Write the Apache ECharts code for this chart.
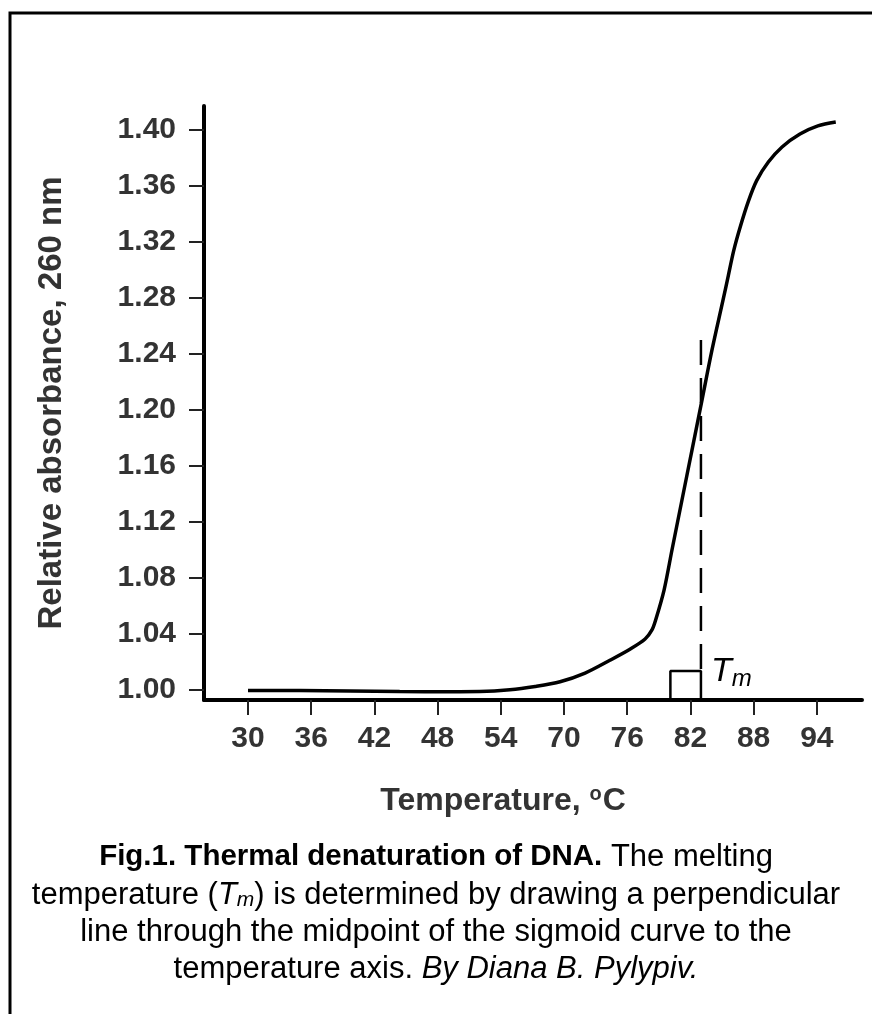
<!DOCTYPE html>
<html>
<head>
<meta charset="utf-8">
<script src="https://cdn.jsdelivr.net/npm/echarts@6/dist/echarts.min.js"></script>
<style>
html,body{margin:0;padding:0;background:#fff;}
#chart{width:872px;height:1014px;}
</style>
</head>
<body>
<div id="chart"></div>
<script>
// ---- data ----
const tickLabels = [30, 36, 42, 48, 54, 70, 76, 82, 88, 94];          // x tick labels (°C)
const yTicks = [1.00, 1.04, 1.08, 1.12, 1.16, 1.20, 1.24, 1.28, 1.32, 1.36, 1.40];
const curveTemps = [30.0, 34.9, 39.7, 44.4, 49.2, 52.0, 56.3, 62.7, 69.0, 72.0, 74.4, 76.3, 77.7, 78.35, 78.7, 79.5, 80.25, 81.2, 82.15, 83.1, 84.05, 85.1, 85.6, 86.1, 86.7, 87.5, 88.3, 89.4, 90.7, 92.4, 94.1, 95.8];
const curveAbs   = [0.9996, 0.9996, 0.9993, 0.9989, 0.9988, 0.9989, 1.0001, 1.0025, 1.0059, 1.0121, 1.0214, 1.0293, 1.0364, 1.0429, 1.0500, 1.0714, 1.1000, 1.1357, 1.1714, 1.2071, 1.2429, 1.2786, 1.2960, 1.3135, 1.3300, 1.3490, 1.3640, 1.3771, 1.3879, 1.3971, 1.4029, 1.4057];
const tmTemp = 83.0;          // melting temperature marker
const tmTopAbs = 1.25;        // top of dashed perpendicular
const boxLeftTemp = 80.1;     // right-angle mark
const boxTopAbs = 1.0136;

// temperature -> axis position (axis is piecewise, ticks evenly spaced)
function tempToPos(t) {
  for (let i = 0; i < tickLabels.length - 1; i++) {
    const a = tickLabels[i], b = tickLabels[i + 1];
    if (t <= b || i === tickLabels.length - 2) return i + (t - a) / (b - a);
  }
}

const yMin = 0.99286, yMax = 1.41714;
const xMin = -0.696, xMax = 9.715;

const curve = curveTemps.map((t, i) => [tempToPos(t), curveAbs[i]]);
const tmLine = [[tempToPos(tmTemp), tmTopAbs], [tempToPos(tmTemp), boxTopAbs]];
const box = [[tempToPos(boxLeftTemp), yMin], [tempToPos(boxLeftTemp), boxTopAbs], [tempToPos(tmTemp), boxTopAbs], [tempToPos(tmTemp), yMin]];

const FONT = '"Liberation Sans", Arial, Helvetica, sans-serif';
const chart = echarts.init(document.getElementById('chart'), null, {renderer: 'canvas'});
chart.setOption({
  backgroundColor: '#fff',
  animation: false,
  grid: {left: 204, right: 10, top: 106, bottom: 314, containLabel: false},
  xAxis: {
    type: 'value', min: xMin, max: xMax,
    axisLine: {show: true, onZero: false, lineStyle: {color: '#000', width: 4}},
    axisTick: {show: true, customValues: tickLabels.map((_, i) => i), length: 15, lineStyle: {color: '#222', width: 2}},
    axisLabel: {show: true, customValues: tickLabels.map((_, i) => i), formatter: v => String(tickLabels[Math.round(v)]),
      margin: 24, color: '#333', fontFamily: FONT, fontWeight: 'bold', fontSize: 30},
    splitLine: {show: false}
  },
  yAxis: {
    type: 'value', min: yMin, max: yMax,
    name: 'Relative absorbance, 260 nm', nameLocation: 'middle', nameGap: 136, nameRotate: 90,
    nameTextStyle: {color: '#333', fontFamily: FONT, fontWeight: 'bold', fontSize: 33},
    axisLine: {show: true, onZero: false, lineStyle: {color: '#000', width: 4}},
    axisTick: {show: true, customValues: yTicks, length: 15, lineStyle: {color: '#222', width: 2}},
    axisLabel: {show: true, customValues: yTicks, formatter: v => v.toFixed(2),
      margin: 28, color: '#333', fontFamily: FONT, fontWeight: 'bold', fontSize: 30},
    splitLine: {show: false}
  },
  series: [
    {type: 'line', data: curve, smooth: 0.3, showSymbol: false, lineStyle: {color: '#000', width: 3.5}, z: 3},
    {type: 'line', data: tmLine, showSymbol: false, lineStyle: {color: '#000', width: 2.5, type: [25, 13]}, z: 2},
    {type: 'line', data: box, showSymbol: false, lineStyle: {color: '#000', width: 2.5}, z: 2}
  ],
  graphic: [
    {type: 'rect', shape: {x: 10, y: 13, width: 900, height: 1050}, style: {fill: 'none', stroke: '#000', lineWidth: 3}, silent: true},
    {type: 'text', x: 711, y: 672, style: {text: '{t|T}{m|m}', rich: {
      t: {fontFamily: FONT, fontStyle: 'italic', fontSize: 34, fill: '#000'},
      m: {fontFamily: FONT, fontStyle: 'italic', fontSize: 24, fill: '#000', padding: [14, 0, 0, 0]}
    }, verticalAlign: 'middle', align: 'left'}},
    {type: 'text', x: 503, y: 801, style: {text: 'Temperature, {s|o}C', fill: '#333', font: 'bold 32px ' + FONT,
      rich: {s: {fontFamily: FONT, fontWeight: 'bold', fontSize: 20, fill: '#333', padding: [0, 1, 14, 0]}},
      align: 'center', verticalAlign: 'middle'}},
    {type: 'text', x: 436, y: 857, style: {text: '{b|Fig.1. Thermal denaturation of DNA.} The melting', fill: '#000', font: '31px ' + FONT,
      rich: {b: {fontFamily: FONT, fontWeight: 'bold', fontSize: 29.5, fill: '#000'}}, align: 'center', verticalAlign: 'middle'}},
    {type: 'text', x: 436, y: 895, style: {text: 'temperature ({i|T}{s|m}) is determined by drawing a perpendicular', fill: '#000', font: '31px ' + FONT,
      rich: {i: {fontFamily: FONT, fontStyle: 'italic', fontSize: 31, fill: '#000'}, s: {fontFamily: FONT, fontStyle: 'italic', fontSize: 21, fill: '#000', padding: [10, 0, 0, 0]}},
      align: 'center', verticalAlign: 'middle'}},
    {type: 'text', x: 436, y: 932, style: {text: 'line through the midpoint of the sigmoid curve to the', fill: '#000', font: '31px ' + FONT,
      align: 'center', verticalAlign: 'middle'}},
    {type: 'text', x: 436, y: 969, style: {text: 'temperature axis. {i|By Diana B. Pylypiv.}', fill: '#000', font: '31px ' + FONT,
      rich: {i: {fontFamily: FONT, fontStyle: 'italic', fontSize: 31, fill: '#000'}}, align: 'center', verticalAlign: 'middle'}}
  ]
});
</script>
</body>
</html>
